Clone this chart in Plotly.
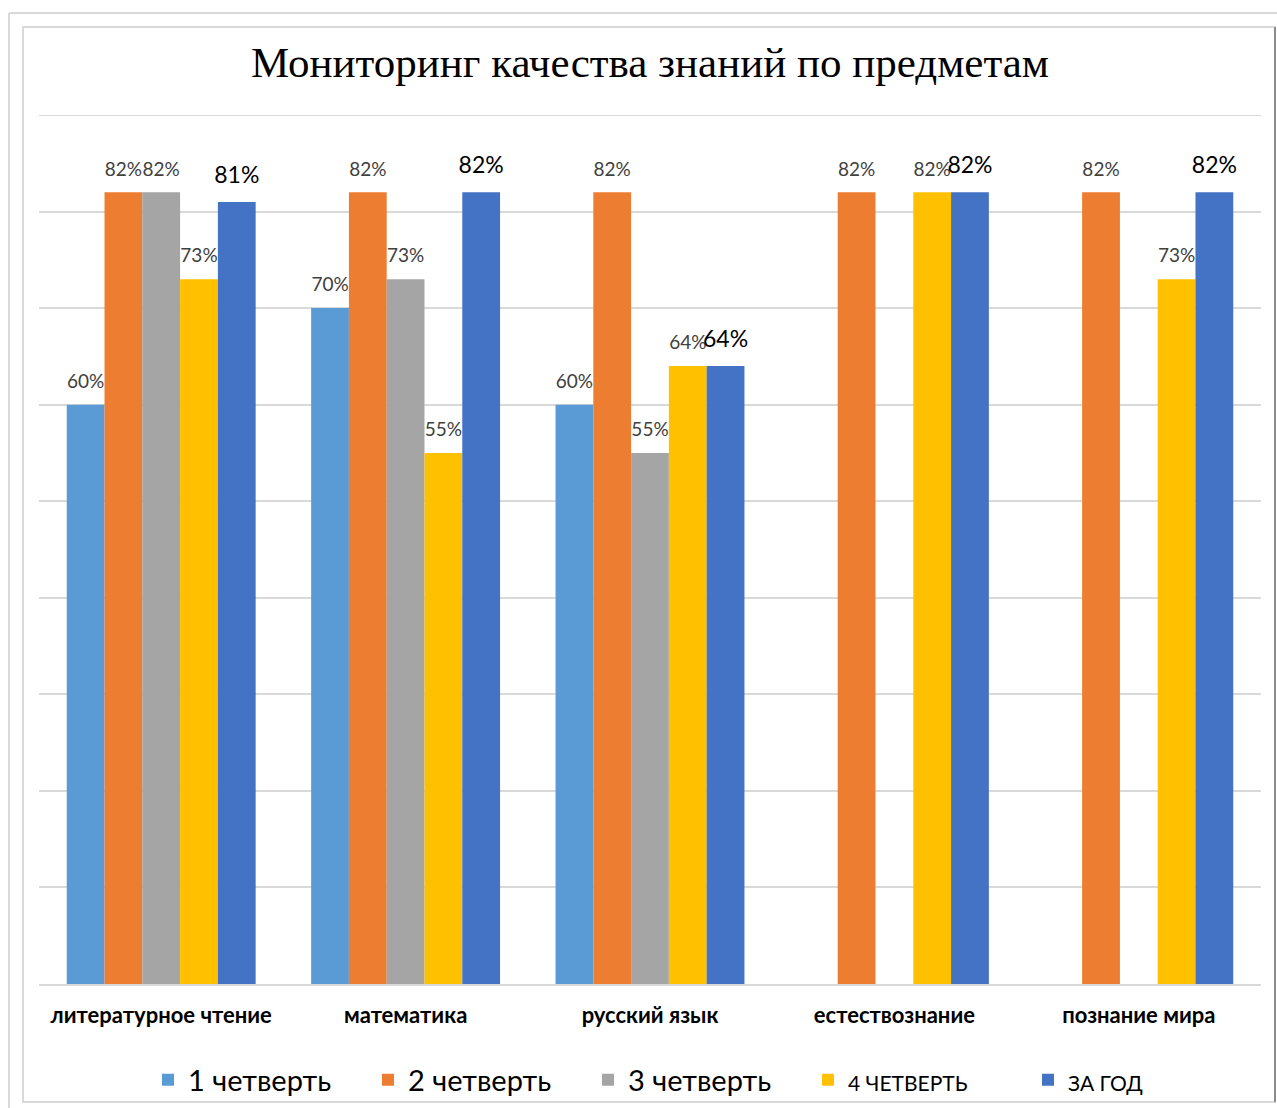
import plotly.graph_objects as go

categories = ["литературное чтение", "математика", "русский язык", "естествознание", "познание мира"]
series_names = ["1 четверть", "2 четверть", "3 четверть", "4 ЧЕТВЕРТЬ", "ЗА ГОД"]
q1 = [60, 70, 60, None, None]
q2 = [82, 82, 82, 82, 82]
q3 = [82, 73, 55, None, None]
q4 = [73, 55, 64, 82, 73]
year = [81, 82, 64, 82, 82]
series_values = [q1, q2, q3, q4, year]
colors = ["#5B9BD5", "#ED7D31", "#A5A5A5", "#FFC000", "#4472C4"]

W, H = 1277, 1108
L, R, T, B = 39, 16, 115, 124
PW, PH = W - L - R, H - T - B

def px_x(px):
    return (px - L) / PW

def px_y(py):
    return (H - B - py) / PH

fig = go.Figure()
for i, (name, vals, col) in enumerate(zip(series_names, series_values, colors)):
    is_year = i == 4
    small = i == 3 or i == 4
    legend_name = name if not small else f"<span style='font-size:21px'>{name}</span>"
    label_size = 23 if is_year else 19
    pad_size = 11 if is_year else 9
    texts = [f"<span style='font-size:{label_size}px'>{v}%</span><br>&nbsp;" if v is not None else ""
             for v in vals]
    fig.add_trace(go.Bar(
        x=categories, y=vals, name=legend_name,
        marker=dict(color=col, line=dict(width=0)),
        text=texts,
        textposition="outside",
        constraintext="none",
        textfont=dict(family="Lato, Carlito, sans-serif", size=pad_size,
                      color="#000000" if is_year else "#404040"),
        cliponaxis=False,
    ))

shapes = [
    # outer frame
    dict(type="line", xref="paper", yref="paper", x0=px_x(9), x1=px_x(9), y0=px_y(13), y1=px_y(1108),
         line=dict(color="#d9d9d9", width=2)),
    dict(type="line", xref="paper", yref="paper", x0=px_x(9), x1=px_x(1277), y0=px_y(13), y1=px_y(13),
         line=dict(color="#d9d9d9", width=2)),
    # inner frame
    dict(type="rect", xref="paper", yref="paper", x0=px_x(23), x1=px_x(1275), y0=px_y(27), y1=px_y(1102),
         line=dict(color="#d9d9d9", width=2)),
    dict(type="line", xref="paper", yref="paper", x0=px_x(1275), x1=px_x(1275), y0=px_y(27), y1=px_y(1102),
         line=dict(color="#8c8c8c", width=2)),
    # top gridline (90%)
    dict(type="line", xref="paper", yref="y", x0=0, x1=1, y0=90, y1=90,
         line=dict(color="#d9d9d9", width=2), layer="below"),
]

fig.update_layout(
    width=W, height=H,
    margin=dict(l=L, r=R, t=T, b=B, autoexpand=False),
    paper_bgcolor="white", plot_bgcolor="white",
    barmode="group", bargap=0.227, bargroupgap=0,
    title=dict(text="Мониторинг качества знаний по предметам",
               font=dict(family="Liberation Serif, Times New Roman, serif", size=43, color="#000000"),
               x=0.5, xref="paper", xanchor="center", y=1 - 62 / H, yanchor="middle"),
    font=dict(family="Lato, sans-serif"),
    showlegend=True,
    legend=dict(orientation="h", xref="container", x=148 / W, xanchor="left",
                y=px_y(1080), yanchor="middle", bgcolor="rgba(0,0,0,0)",
                font=dict(size=29, color="#000000", family="Lato, sans-serif"),
                entrywidth=175, entrywidthmode="pixels", traceorder="normal",
                itemwidth=30),
    shapes=shapes,
)
fig.update_yaxes(range=[0, 90], dtick=10, showticklabels=False, showgrid=True,
                 gridcolor="#d9d9d9", gridwidth=2, zeroline=False, showline=False)
fig.update_xaxes(showline=True, linecolor="#d9d9d9", linewidth=2,
                 tickfont=dict(family="Lato, sans-serif", size=22, color="#000000", weight="bold"),
                 ticks="", ticklabelstandoff=11)

fig.write_html("out.html", config={"displayModeBar": False},
               post_script="document.body.style.margin='0';document.body.style.overflow='hidden';")
